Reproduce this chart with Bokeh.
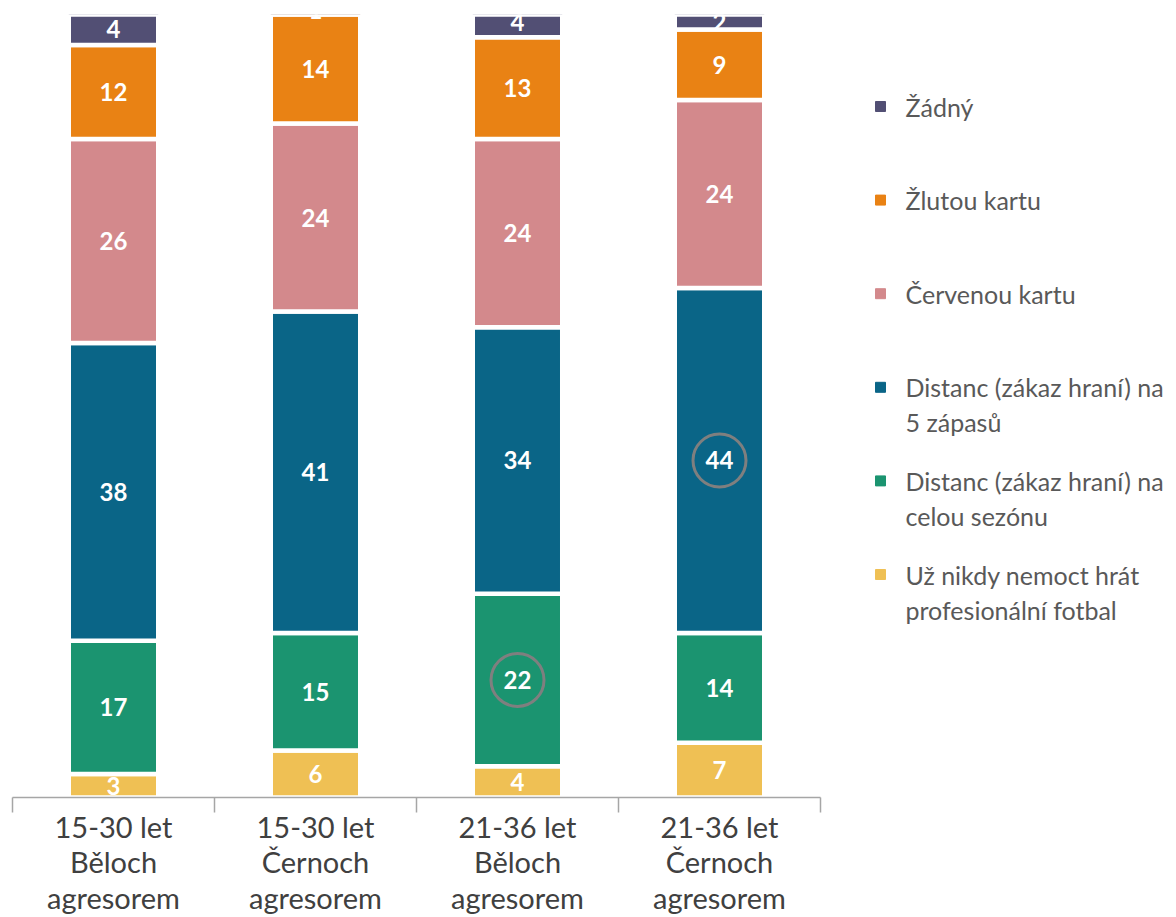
import numpy as np
from bokeh.plotting import figure
from bokeh.models import ColumnDataSource, Range1d, FixedTicker
from bokeh.layouts import row
from bokeh.embed import file_html
from bokeh.resources import INLINE
from bokeh.core.properties import value

# ---------------- data ----------------
categories = [
    "15-30 let\nBěloch\nagresorem",
    "15-30 let\nČernoch\nagresorem",
    "21-36 let\nBěloch\nagresorem",
    "21-36 let\nČernoch\nagresorem",
]
# series, bottom -> top
series_names = [
    "Už nikdy nemoct hrát\nprofesionální fotbal",
    "Distanc (zákaz hraní) na\ncelou sezónu",
    "Distanc (zákaz hraní) na\n5 zápasů",
    "Červenou kartu",
    "Žlutou kartu",
    "Žádný",
]
uz_nikdy = [3, 6, 4, 7]
distanc_sezona = [17, 15, 22, 14]
distanc_5 = [38, 41, 34, 44]
cervena = [26, 24, 24, 24]
zluta = [12, 14, 13, 9]
zadny = [4, 1, 4, 2]
series_values = [uz_nikdy, distanc_sezona, distanc_5, cervena, zluta, zadny]
colors = ["#EFC054", "#1B9470", "#0A6587", "#D3898C", "#E98214", "#524F74"]

# circled values: (category index, series index)
highlight_category = [2, 3]
highlight_series = [1, 2]

FONT = "Lato"

# layout constants (page pixels)
FRAME_TOP = 14
FRAME_H = 783
FRAME_LEFT = 12
FRAME_W = 808
MAIN_RIGHT_BORDER = 10
LEG_W = 344

# ---------------- main chart ----------------
xs = np.arange(len(categories)) + 0.5
keys = [f"s{i}" for i in range(len(series_names))]
data = {"x": xs}
for k, v in zip(keys, series_values):
    data[k] = v
source = ColumnDataSource(data)

p = figure(frame_width=FRAME_W, frame_height=FRAME_H,
           x_range=Range1d(0, len(categories)),
           y_range=Range1d(0, 99.9), output_backend="svg", toolbar_location=None,
           min_border_left=FRAME_LEFT, min_border_right=MAIN_RIGHT_BORDER,
           min_border_top=FRAME_TOP, min_border_bottom=0, y_axis_location=None)
p.outline_line_color = None
p.grid.visible = False

p.vbar_stack(keys, x="x", width=0.443, color=colors, source=source,
             line_color="white", line_width=4.5)

# data labels
vals = np.array(series_values, dtype=float)
cum = np.cumsum(vals, axis=0)
lx, ly, lt = [], [], []
for si in range(vals.shape[0]):
    for ci in range(vals.shape[1]):
        lx.append(xs[ci])
        ly.append(cum[si, ci] - vals[si, ci] / 2)
        lt.append(str(int(vals[si, ci])))
p.text(x=lx, y=ly, text=lt, text_color="white", text_font=value(FONT),
       text_font_style="bold", text_font_size="24px", text_align="center",
       text_baseline="middle")

# highlight circles
hx = [xs[c] for c in highlight_category]
hy = [cum[s, c] - vals[s, c] / 2 for c, s in zip(highlight_category, highlight_series)]
p.scatter(x=hx, y=hy, marker="circle", size=53, fill_color=None,
          line_color="#7F7F7F", line_width=3)

# x axis
ax = p.xaxis[0]
ax.ticker = FixedTicker(ticks=list(xs), minor_ticks=list(range(len(categories) + 1)))
ax.major_label_overrides = {float(x): c for x, c in zip(xs, categories)}
ax.major_tick_line_color = None
ax.major_tick_out = 0
ax.major_tick_in = 0
ax.minor_tick_out = 15
ax.minor_tick_in = 0
ax.minor_tick_line_color = "#A6A6A6"
ax.minor_tick_line_width = 1.5
ax.axis_line_color = "#A6A6A6"
ax.axis_line_width = 1.5
ax.major_label_standoff = -4
ax.major_label_text_font = FONT
ax.major_label_text_font_size = "29px"
ax.major_label_text_line_height = 1.02
ax.major_label_text_color = "#404040"

# ---------------- legend panel ----------------
leg_x0 = FRAME_LEFT + FRAME_W + MAIN_RIGHT_BORDER
lf = figure(frame_width=LEG_W, frame_height=FRAME_H,
            x_range=Range1d(leg_x0, leg_x0 + LEG_W),
            y_range=Range1d(FRAME_TOP + FRAME_H, FRAME_TOP),
            output_backend="svg", toolbar_location=None,
            min_border_left=0, min_border_right=0,
            min_border_top=FRAME_TOP, min_border_bottom=0,
            x_axis_location=None, y_axis_location=None)
lf.outline_line_color = None
lf.grid.visible = False

leg_names = series_names[::-1]
leg_colors = colors[::-1]
sq_x, sq_y, sq_c = [], [], []
tx, ty, tt = [], [], []
for i, (name, col) in enumerate(zip(leg_names, leg_colors)):
    y0 = 106 + i * 93.6
    sq_x.append(880)
    sq_y.append(y0)
    sq_c.append(col)
    for j, line in enumerate(name.split("\n")):
        tx.append(905)
        ty.append(y0 + j * 35)
        tt.append(line)
lf.scatter(x=sq_x, y=sq_y, marker="square", size=10, color=sq_c)
lf.text(x=tx, y=ty, text=tt, text_color="#595959", text_font=value(FONT),
        text_font_size="25px", text_align="left", text_baseline="middle")

layout = row(p, lf)
open("out.html", "w").write(file_html(layout, INLINE))
